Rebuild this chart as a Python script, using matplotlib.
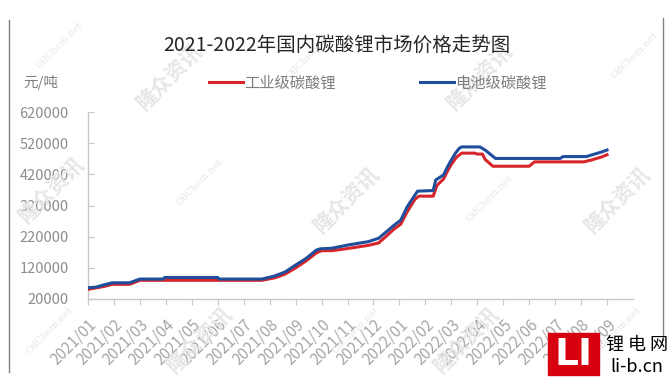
import matplotlib
matplotlib.use('Agg')
import matplotlib.pyplot as plt
from matplotlib.patches import Rectangle
from matplotlib.lines import Line2D

plt.rcParams['font.family'] = ['Noto Sans CJK SC', 'DejaVu Sans']

# month index: 0 = 2021/01, 20 = 2022/09
months = ['2021/01', '2021/02', '2021/03', '2021/04', '2021/05', '2021/06', '2021/07',
          '2021/08', '2021/09', '2021/10', '2021/11', '2021/12', '2022/01', '2022/02',
          '2022/03', '2022/04', '2022/05', '2022/06', '2022/07', '2022/08', '2022/09']

# 工业级碳酸锂 (元/吨)
ind_m = [0, 0.6, 0.93, 1.6, 2.0, 6.7, 7.2, 7.6, 8.0, 8.4, 8.8, 9.0, 9.4, 10.0, 10.8,
         11.2, 11.5, 11.8, 12.05, 12.3, 12.6, 12.75, 13.3, 13.45, 13.7, 13.85, 14.0,
         14.2, 14.4, 14.9, 15.0, 15.2, 15.3, 15.6, 17.0, 17.2, 19.1, 19.4, 19.8, 20.0]
ind_v = [51000, 60000, 67000, 67000, 80000, 80000, 88000, 100000, 120000, 142000,
         168000, 175000, 175000, 182000, 192000, 200000, 222000, 245000, 260000,
         300000, 340000, 350000, 350000, 385000, 405000, 430000, 452000, 475000,
         488000, 488000, 485000, 485000, 468000, 446000, 446000, 460000, 460000,
         466000, 476000, 483000]

# 电池级碳酸锂 (元/吨)
bat_m = [0, 0.3, 0.6, 0.93, 1.6, 2.0, 2.9, 2.95, 5.0, 5.05, 6.7, 7.2, 7.6, 8.0, 8.4,
         8.8, 8.95, 9.4, 10.0, 10.8, 11.2, 11.5, 11.8, 12.05, 12.3, 12.6, 12.7, 13.3,
         13.4, 13.7, 13.85, 14.0, 14.15, 14.3, 14.4, 15.1, 15.3, 15.7, 18.2, 18.3,
         19.2, 19.4, 19.8, 20.0]
bat_v = [56000, 58000, 65000, 72000, 72000, 84000, 84000, 89000, 89000, 84000, 84000,
         94000, 107000, 129000, 150000, 177000, 181000, 183000, 193000, 204000,
         215000, 236000, 257000, 273000, 316000, 354000, 366000, 368000, 402000,
         418000, 444000, 466000, 487000, 503000, 508000, 508000, 498000, 471000,
         471000, 477000, 477000, 482000, 492000, 498000]

yticks = [20000, 120000, 220000, 320000, 420000, 520000, 620000]

W, H = 672, 381
fig = plt.figure(figsize=(W / 100, H / 100), dpi=100)

# 水印
wm_brand = [(170, 77), (480, 77), (52, 190), (347, 200), (618, 200), (200, 340), (467, 340)]
wm_site = [(60, 45), (310, 55), (635, 55), (200, 182), (490, 198), (50, 330), (356, 330), (618, 330)]
for x, y in wm_brand:
    fig.text(x / W, 1 - y / H, '隆众资讯', fontsize=15, fontweight='bold', style='italic',
             color='#e6e6e6', rotation=45, ha='center', va='center', zorder=0)
for x, y in wm_site:
    fig.text(x / W, 1 - y / H, 'OilChem.net', fontsize=7, color='#e6e6e6',
             family='DejaVu Serif', rotation=45, ha='center', va='center', zorder=0)

ax = fig.add_axes([88 / W, 1 - 299 / H, (633 - 88) / W, (299 - 112) / H])
ax.patch.set_alpha(0)

ax.plot(ind_m, ind_v, color='#d7262b', lw=2.2, label='工业级碳酸锂', zorder=3)
ax.plot(bat_m, bat_v, color='#1f4f9c', lw=2.2, label='电池级碳酸锂', zorder=4)

ax.set_xlim(0, 21)
ax.set_ylim(20000, 620000)
ax.set_yticks(yticks)
ax.set_yticklabels([str(v) for v in yticks], fontsize=10.5, color='#8c8c8c')
ax.set_xticks(range(len(months)))
ax.set_xticklabels(months, rotation=45, ha='right', rotation_mode='anchor',
                   fontsize=11, color='#a6a6a6')
ax.tick_params(axis='x', length=4, color='#c8c8c8', pad=8)
ax.tick_params(axis='y', direction='in', length=4, color='#c8c8c8', pad=14)
for s in ['top', 'right']:
    ax.spines[s].set_visible(False)
for s in ['left', 'bottom']:
    ax.spines[s].set_color('#c8c8c8')
    ax.spines[s].set_linewidth(1)

fig.text(337 / W, 1 - 45 / H, '2021-2022年国内碳酸锂市场价格走势图', fontsize=14,
         color='#262626', ha='center', va='center')
fig.text(23 / W, 1 - 82 / H, '元/吨', fontsize=10.5, color='#7f7f7f', ha='left', va='center')

# 图例
handles, labels = ax.get_legend_handles_labels()
fig.legend(handles, labels, loc='center', bbox_to_anchor=(378 / W, 1 - 83 / H), ncol=2,
           frameon=False, fontsize=11, labelcolor='#7f7f7f', handlelength=2.2,
           handletextpad=0.1, columnspacing=5.5)

# 边框
fig.add_artist(Line2D([9 / W, 9 / W], [1 - 20 / H, 1 - 372 / H], color='#808080', lw=1))
fig.add_artist(Line2D([663 / W, 663 / W], [1 - 18 / H, 1 - 340 / H], color='#808080', lw=1))

# 锂电网 logo
fig.add_artist(Rectangle((548 / W, 1 - 375 / H), 51 / W, 42 / H, color='#d6000f',
                         transform=fig.transFigure, zorder=5))
fig.text(573 / W, 1 - 355 / H, 'LI', fontsize=27, fontweight='bold', color='white',
         family='DejaVu Sans', ha='center', va='center', zorder=6)
fig.text(637 / W, 1 - 345 / H, '锂 电 网', fontsize=13, color='black', ha='center',
         va='center', zorder=6)
fig.text(637 / W, 1 - 367 / H, 'li-b.cn', fontsize=13, color='black', ha='center',
         va='center', zorder=6)

fig.savefig('out.png', dpi=100)
